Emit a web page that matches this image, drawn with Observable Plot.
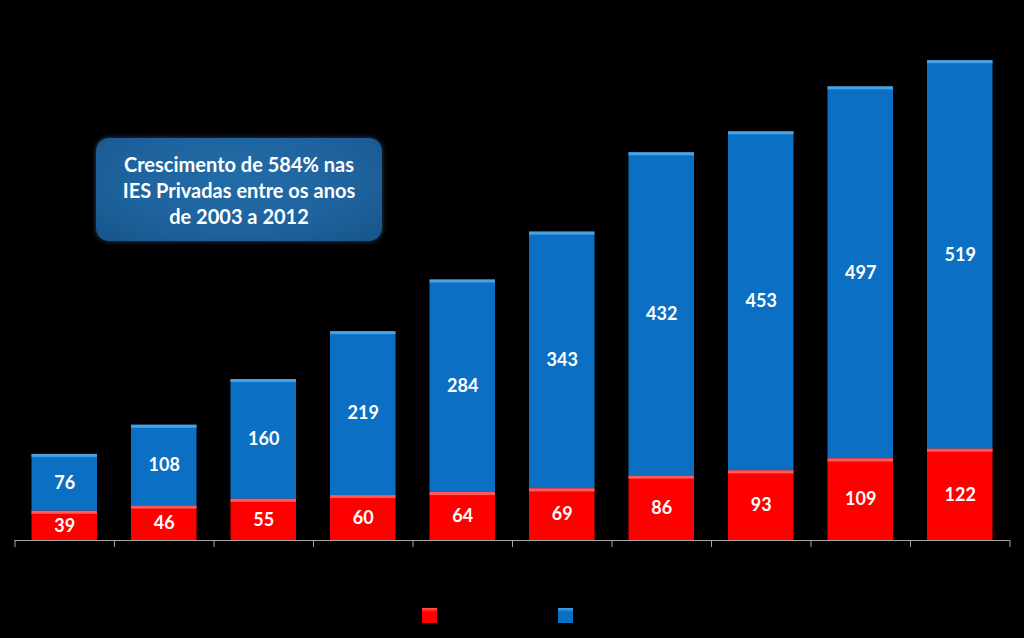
<!DOCTYPE html>
<html><head><meta charset="utf-8">
<script src="https://cdn.jsdelivr.net/npm/d3@7"></script>
<script src="https://cdn.jsdelivr.net/npm/@observablehq/plot@0.6"></script>
<style>
html,body{margin:0;padding:0;background:#000;width:1024px;height:638px;overflow:hidden}
#wrap{position:relative;width:1024px;height:638px;background:#000}
#box{position:absolute;left:96px;top:138px;width:286px;height:103px;border-radius:13px;
 background:radial-gradient(ellipse at 50% 40%,#236ca8 0%,#1e629c 60%,#17548a 100%);
 box-shadow:0 0 5px rgba(70,130,190,.55);color:#fff;font:bold 20px Lato,"Open Sans",sans-serif;
 text-align:center;display:flex;flex-direction:column;align-items:center;justify-content:center;line-height:26px}
.sw{position:absolute;top:608px;width:15px;height:15px}
.lab{position:absolute;top:605px;color:#000;font:bold 15px Lato,sans-serif}
</style></head>
<body><div id="wrap"></div>
<script>
const years = ["2003","2004","2005","2006","2007","2008","2009","2010","2011","2012"];
const publicas = [39,46,55,60,64,69,86,93,109,122];
const privadas = [76,108,160,219,284,343,432,453,497,519];
const seriesNames = ["IES Públicas","IES Privadas"];
const seriesColors = ["#ff0000","#0b70c4"];
const bevelColors = ["#ff5a5a","#4aa2e4"];
const boxLines = ["Crescimento de 584% nas","IES Privadas entre os anos","de 2003 a 2012"];

const rows = [];
const tops = [];
years.forEach((y, i) => {
  rows.push({i, year: y, series: seriesNames[0], value: publicas[i]});
  rows.push({i, year: y, series: seriesNames[1], value: privadas[i]});
  tops.push({i, s: 0, top: publicas[i]});
  tops.push({i, s: 1, top: publicas[i] + privadas[i]});
});

const chart = Plot.plot({
  width: 1024, height: 590,
  marginLeft: 14.5, marginRight: 14.5, marginTop: 16, marginBottom: 50,
  style: {background: "#000", color: "#a6a6a6", fontFamily: "Lato, sans-serif"},
  x: {domain: [0, 10], axis: null},
  y: {domain: [0, 700], axis: null},
  color: {domain: seriesNames, range: seriesColors},
  marks: [
    Plot.rectY(rows, Plot.stackY({x1: "i", x2: d => d.i + 1, y: "value", fill: "series", order: seriesNames, insetLeft: 17, insetRight: 17})),
    Plot.rectY(tops.filter(d => d.s === 0), {x1: "i", x2: d => d.i + 1, y1: "top", y2: "top", fill: bevelColors[0], insetLeft: 17, insetRight: 17, insetBottom: -3}),
    Plot.rectY(tops.filter(d => d.s === 1), {x1: "i", x2: d => d.i + 1, y1: "top", y2: "top", fill: bevelColors[1], insetLeft: 17, insetRight: 17, insetBottom: -3}),
    Plot.text(rows, Plot.stackY({x: d => d.i + 0.5, y: "value", z: "series", order: seriesNames, text: d => String(d.value), fill: "#fff", fontSize: 18, fontWeight: "bold"})),
    Plot.ruleY([0], {stroke: "#a6a6a6", strokeWidth: 1}),
    Plot.axisX({ticks: d3.range(0, 11), tickSize: 7, tickFormat: () => "", label: null, stroke: "#a6a6a6"}),
    Plot.text(years, {x: (d, i) => i + 0.5, frameAnchor: "bottom", dy: 24, text: d => d, fill: "#000", fontSize: 15, fontWeight: "bold"})
  ]
});
const wrap = document.getElementById("wrap");
wrap.appendChild(chart);

const box = document.createElement("div");
box.id = "box";
boxLines.forEach(t => { const s = document.createElement("div"); s.textContent = t; box.appendChild(s); });
wrap.appendChild(box);

const legendX = [422, 558];
seriesNames.forEach((n, k) => {
  const sw = document.createElement("div");
  sw.className = "sw";
  sw.style.left = legendX[k] + "px";
  sw.style.background = `linear-gradient(${bevelColors[k]} 0, ${seriesColors[k]} 4px)`;
  wrap.appendChild(sw);
  const lab = document.createElement("div");
  lab.className = "lab";
  lab.style.left = (legendX[k] + 20) + "px";
  lab.textContent = n;
  wrap.appendChild(lab);
});
</script>
</body></html>
